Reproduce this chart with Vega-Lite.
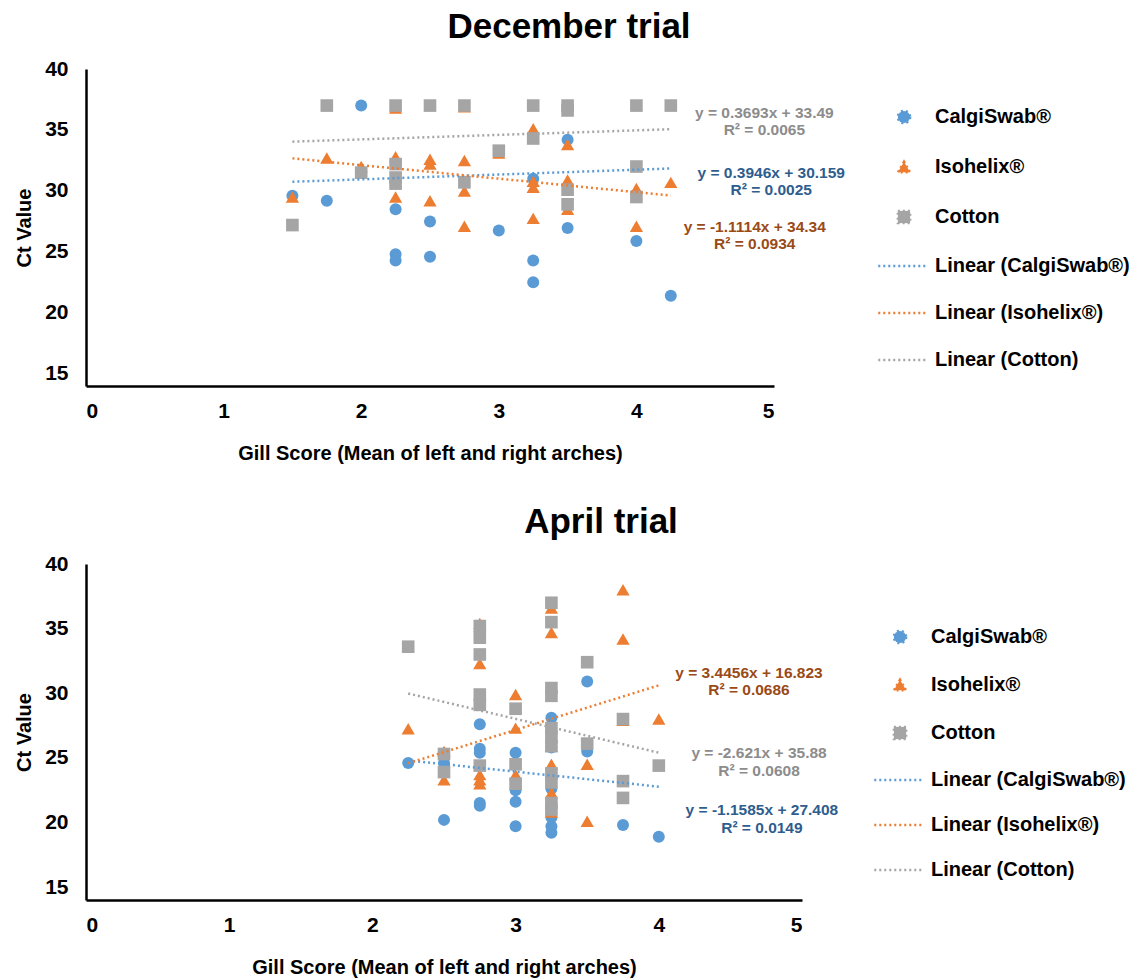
{
  "$schema": "https://vega.github.io/schema/vega-lite/v6.json",
  "padding": {"left": 14, "top": 10, "right": 5, "bottom": 5},
  "background": "white",
  "config": {
    "font": "Liberation Sans",
    "view": {"stroke": null},
    "axis": {"domainColor": "black", "domainWidth": 2.5, "ticks": false, "grid": false, "labelFont": "Liberation Sans", "labelFontSize": 21, "labelFontWeight": "bold", "labelColor": "black", "titleFont": "Liberation Sans", "titleFontSize": 20, "titleFontWeight": "bold", "titleColor": "black"},
    "axisX": {"labelPadding": 14, "titlePadding": 22, "format": "d"},
    "axisY": {"labelPadding": 18, "titlePadding": 10},
    "title": {"font": "Liberation Sans", "fontSize": 35, "fontWeight": "bold", "color": "black"},
    "legend": {
      "orient": "none", "title": null, "labelFont": "Liberation Sans", "labelFontSize": 20, "labelFontWeight": "bold", "labelColor": "black",
      "symbolSize": 150, "labelOffset": 21, "rowPadding": 27, "labelLimit": 0, "symbolDash": [2, 3], "symbolStrokeWidth": 2.5
    }
  },
  "datasets": {
    "decPts": [
      {"series": "CalgiSwab®", "x": 1.5, "y": 29.6}, {"series": "CalgiSwab®", "x": 1.75, "y": 29.2}, {"series": "CalgiSwab®", "x": 2.0, "y": 37.0}, {"series": "CalgiSwab®", "x": 2.25, "y": 28.5}, {"series": "CalgiSwab®", "x": 2.25, "y": 24.8}, {"series": "CalgiSwab®", "x": 2.25, "y": 24.3}, {"series": "CalgiSwab®", "x": 2.5, "y": 27.5}, {"series": "CalgiSwab®", "x": 2.5, "y": 24.6}, {"series": "CalgiSwab®", "x": 3.0, "y": 26.75}, {"series": "CalgiSwab®", "x": 3.25, "y": 31.0}, {"series": "CalgiSwab®", "x": 3.25, "y": 24.3}, {"series": "CalgiSwab®", "x": 3.25, "y": 22.5}, {"series": "CalgiSwab®", "x": 3.5, "y": 34.2}, {"series": "CalgiSwab®", "x": 3.5, "y": 26.95}, {"series": "CalgiSwab®", "x": 4.0, "y": 25.9}, {"series": "CalgiSwab®", "x": 4.25, "y": 21.4},
      {"series": "Isohelix®", "x": 1.5, "y": 29.5}, {"series": "Isohelix®", "x": 1.75, "y": 32.7}, {"series": "Isohelix®", "x": 2.0, "y": 32.0}, {"series": "Isohelix®", "x": 2.25, "y": 36.8}, {"series": "Isohelix®", "x": 2.25, "y": 32.8}, {"series": "Isohelix®", "x": 2.25, "y": 29.5}, {"series": "Isohelix®", "x": 2.5, "y": 32.6}, {"series": "Isohelix®", "x": 2.5, "y": 32.2}, {"series": "Isohelix®", "x": 2.5, "y": 29.2}, {"series": "Isohelix®", "x": 2.75, "y": 36.9}, {"series": "Isohelix®", "x": 2.75, "y": 32.5}, {"series": "Isohelix®", "x": 2.75, "y": 30.0}, {"series": "Isohelix®", "x": 2.75, "y": 27.1}, {"series": "Isohelix®", "x": 3.0, "y": 33.1}, {"series": "Isohelix®", "x": 3.25, "y": 35.1}, {"series": "Isohelix®", "x": 3.25, "y": 30.8}, {"series": "Isohelix®", "x": 3.25, "y": 30.3}, {"series": "Isohelix®", "x": 3.25, "y": 27.75}, {"series": "Isohelix®", "x": 3.5, "y": 33.8}, {"series": "Isohelix®", "x": 3.5, "y": 30.9}, {"series": "Isohelix®", "x": 3.5, "y": 28.5}, {"series": "Isohelix®", "x": 4.0, "y": 30.2}, {"series": "Isohelix®", "x": 4.0, "y": 27.1}, {"series": "Isohelix®", "x": 4.25, "y": 30.7},
      {"series": "Cotton", "x": 1.5, "y": 27.2}, {"series": "Cotton", "x": 1.75, "y": 37.0}, {"series": "Cotton", "x": 2.0, "y": 31.5}, {"series": "Cotton", "x": 2.25, "y": 37.0}, {"series": "Cotton", "x": 2.25, "y": 32.2}, {"series": "Cotton", "x": 2.25, "y": 31.1}, {"series": "Cotton", "x": 2.25, "y": 30.6}, {"series": "Cotton", "x": 2.5, "y": 37.0}, {"series": "Cotton", "x": 2.75, "y": 37.0}, {"series": "Cotton", "x": 2.75, "y": 30.7}, {"series": "Cotton", "x": 3.0, "y": 33.3}, {"series": "Cotton", "x": 3.25, "y": 37.0}, {"series": "Cotton", "x": 3.25, "y": 34.3}, {"series": "Cotton", "x": 3.5, "y": 37.0}, {"series": "Cotton", "x": 3.5, "y": 36.6}, {"series": "Cotton", "x": 3.5, "y": 30.1}, {"series": "Cotton", "x": 3.5, "y": 28.9}, {"series": "Cotton", "x": 4.0, "y": 37.0}, {"series": "Cotton", "x": 4.0, "y": 32.0}, {"series": "Cotton", "x": 4.0, "y": 29.5}, {"series": "Cotton", "x": 4.25, "y": 37.0}
    ],
    "decLines": [
      {"series": "Linear (CalgiSwab®)", "x": 1.5, "y": 30.75}, {"series": "Linear (CalgiSwab®)", "x": 4.25, "y": 31.84},
      {"series": "Linear (Isohelix®)", "x": 1.5, "y": 32.67}, {"series": "Linear (Isohelix®)", "x": 4.25, "y": 29.62},
      {"series": "Linear (Cotton)", "x": 1.5, "y": 34.04}, {"series": "Linear (Cotton)", "x": 4.25, "y": 35.06}
    ],
    "decEq": [
      {"series": "Cotton", "x": 4.93, "y": 36.4, "label": "y = 0.3693x + 33.49\nR² = 0.0065"},
      {"series": "CalgiSwab®", "x": 4.98, "y": 31.5, "label": "y = 0.3946x + 30.159\nR² = 0.0025"},
      {"series": "Isohelix®", "x": 4.86, "y": 27.07, "label": "y = -1.1114x + 34.34\nR² = 0.0934"}
    ],
    "aprPts": [
      {"series": "CalgiSwab®", "x": 2.25, "y": 24.6}, {"series": "CalgiSwab®", "x": 2.5, "y": 24.6}, {"series": "CalgiSwab®", "x": 2.5, "y": 20.2}, {"series": "CalgiSwab®", "x": 2.75, "y": 27.6}, {"series": "CalgiSwab®", "x": 2.75, "y": 25.7}, {"series": "CalgiSwab®", "x": 2.75, "y": 25.4}, {"series": "CalgiSwab®", "x": 2.75, "y": 21.5}, {"series": "CalgiSwab®", "x": 2.75, "y": 21.3}, {"series": "CalgiSwab®", "x": 3.0, "y": 25.4}, {"series": "CalgiSwab®", "x": 3.0, "y": 22.5}, {"series": "CalgiSwab®", "x": 3.0, "y": 21.6}, {"series": "CalgiSwab®", "x": 3.0, "y": 19.7}, {"series": "CalgiSwab®", "x": 3.25, "y": 28.1}, {"series": "CalgiSwab®", "x": 3.25, "y": 25.8}, {"series": "CalgiSwab®", "x": 3.25, "y": 22.6}, {"series": "CalgiSwab®", "x": 3.25, "y": 20.4}, {"series": "CalgiSwab®", "x": 3.25, "y": 19.7}, {"series": "CalgiSwab®", "x": 3.25, "y": 19.2}, {"series": "CalgiSwab®", "x": 3.5, "y": 30.9}, {"series": "CalgiSwab®", "x": 3.5, "y": 25.5}, {"series": "CalgiSwab®", "x": 3.75, "y": 19.8}, {"series": "CalgiSwab®", "x": 4.0, "y": 18.9},
      {"series": "Isohelix®", "x": 2.25, "y": 27.25}, {"series": "Isohelix®", "x": 2.5, "y": 25.5}, {"series": "Isohelix®", "x": 2.5, "y": 23.3}, {"series": "Isohelix®", "x": 2.75, "y": 35.4}, {"series": "Isohelix®", "x": 2.75, "y": 32.3}, {"series": "Isohelix®", "x": 2.75, "y": 23.7}, {"series": "Isohelix®", "x": 2.75, "y": 23.3}, {"series": "Isohelix®", "x": 2.75, "y": 23.0}, {"series": "Isohelix®", "x": 3.0, "y": 29.9}, {"series": "Isohelix®", "x": 3.0, "y": 27.3}, {"series": "Isohelix®", "x": 3.0, "y": 23.7}, {"series": "Isohelix®", "x": 3.25, "y": 36.6}, {"series": "Isohelix®", "x": 3.25, "y": 34.7}, {"series": "Isohelix®", "x": 3.25, "y": 25.9}, {"series": "Isohelix®", "x": 3.25, "y": 24.5}, {"series": "Isohelix®", "x": 3.25, "y": 22.3}, {"series": "Isohelix®", "x": 3.25, "y": 20.8}, {"series": "Isohelix®", "x": 3.5, "y": 24.5}, {"series": "Isohelix®", "x": 3.5, "y": 20.1}, {"series": "Isohelix®", "x": 3.75, "y": 38.0}, {"series": "Isohelix®", "x": 3.75, "y": 34.2}, {"series": "Isohelix®", "x": 3.75, "y": 27.9}, {"series": "Isohelix®", "x": 4.0, "y": 28.0},
      {"series": "Cotton", "x": 2.25, "y": 33.6}, {"series": "Cotton", "x": 2.5, "y": 25.3}, {"series": "Cotton", "x": 2.5, "y": 23.9}, {"series": "Cotton", "x": 2.75, "y": 35.2}, {"series": "Cotton", "x": 2.75, "y": 34.3}, {"series": "Cotton", "x": 2.75, "y": 33.0}, {"series": "Cotton", "x": 2.75, "y": 29.9}, {"series": "Cotton", "x": 2.75, "y": 29.1}, {"series": "Cotton", "x": 2.75, "y": 24.4}, {"series": "Cotton", "x": 3.0, "y": 28.8}, {"series": "Cotton", "x": 3.0, "y": 24.5}, {"series": "Cotton", "x": 3.0, "y": 23.0}, {"series": "Cotton", "x": 3.25, "y": 37.0}, {"series": "Cotton", "x": 3.25, "y": 35.5}, {"series": "Cotton", "x": 3.25, "y": 30.4}, {"series": "Cotton", "x": 3.25, "y": 29.8}, {"series": "Cotton", "x": 3.25, "y": 27.3}, {"series": "Cotton", "x": 3.25, "y": 26.6}, {"series": "Cotton", "x": 3.25, "y": 25.9}, {"series": "Cotton", "x": 3.25, "y": 23.8}, {"series": "Cotton", "x": 3.25, "y": 23.1}, {"series": "Cotton", "x": 3.25, "y": 21.5}, {"series": "Cotton", "x": 3.25, "y": 21.0}, {"series": "Cotton", "x": 3.5, "y": 32.4}, {"series": "Cotton", "x": 3.5, "y": 26.1}, {"series": "Cotton", "x": 3.75, "y": 28.0}, {"series": "Cotton", "x": 3.75, "y": 23.2}, {"series": "Cotton", "x": 3.75, "y": 21.9}, {"series": "Cotton", "x": 4.0, "y": 24.4}
    ],
    "aprLines": [
      {"series": "Linear (CalgiSwab®)", "x": 2.25, "y": 24.80}, {"series": "Linear (CalgiSwab®)", "x": 4.0, "y": 22.77},
      {"series": "Linear (Isohelix®)", "x": 2.25, "y": 24.58}, {"series": "Linear (Isohelix®)", "x": 4.0, "y": 30.61},
      {"series": "Linear (Cotton)", "x": 2.25, "y": 29.98}, {"series": "Linear (Cotton)", "x": 4.0, "y": 25.40}
    ],
    "aprEq": [
      {"series": "Isohelix®", "x": 4.63, "y": 31.6, "label": "y = 3.4456x + 16.823\nR² = 0.0686"},
      {"series": "Cotton", "x": 4.70, "y": 25.34, "label": "y = -2.621x + 35.88\nR² = 0.0608"},
      {"series": "CalgiSwab®", "x": 4.72, "y": 20.95, "label": "y = -1.1585x + 27.408\nR² = 0.0149"}
    ]
  },
  "resolve": {"scale": {"color": "independent", "shape": "independent", "size": "independent", "fill": "independent", "x": "independent", "y": "independent"}},
  "spacing": 42,
  "vconcat": [
    {
      "title": {"text": "December trial", "anchor": "middle", "dx": 139, "offset": 13},
      "width": 688,
      "height": 317,
      "layer": [
        {
          "data": {"name": "decPts"},
          "mark": {"type": "point", "filled": true, "opacity": 1},
          "encoding": {
            "x": {"field": "x", "type": "quantitative", "scale": {"domain": [0, 5]}, "axis": {"title": "Gill Score (Mean of left and right arches)", "values": [0, 1, 2, 3, 4, 5]}},
            "y": {"field": "y", "type": "quantitative", "scale": {"domain": [15, 40]}, "axis": {"title": "Ct Value", "values": [15, 20, 25, 30, 35, 40]}},
            "color": {"field": "series", "type": "nominal", "scale": {"domain": ["CalgiSwab®", "Isohelix®", "Cotton", "Linear (CalgiSwab®)", "Linear (Isohelix®)", "Linear (Cotton)"], "range": ["#5B9BD5", "#ED7D31", "#A5A5A5", "#5B9BD5", "#ED7D31", "#A5A5A5"]},
              "legend": {"legendX": 808, "legendY": 38, "symbolDash": [2, 3], "symbolStrokeWidth": 2.5}},
            "shape": {"field": "series", "type": "nominal", "scale": {"domain": ["CalgiSwab®", "Isohelix®", "Cotton", "Linear (CalgiSwab®)", "Linear (Isohelix®)", "Linear (Cotton)"], "range": ["circle", "triangle-up", "square", "M-4.2,0L3.9,0", "M-4.2,0L3.9,0", "M-4.2,0L3.9,0"]},
              "legend": {"legendX": 808, "legendY": 38, "symbolDash": [2, 3], "symbolStrokeWidth": 2.5}},
            "size": {"field": "series", "type": "nominal", "scale": {"domain": ["CalgiSwab®", "Cotton", "Isohelix®"], "range": [144, 175, 330]}, "legend": null}
          }
        },
        {
          "data": {"name": "decLines"},
          "mark": {"type": "line", "strokeDash": [2, 3], "strokeWidth": 2.5},
          "encoding": {
            "x": {"field": "x", "type": "quantitative"},
            "y": {"field": "y", "type": "quantitative"},
            "color": {"field": "series", "type": "nominal"}
          }
        },
        {
          "data": {"name": "decEq"},
          "mark": {"type": "text", "lineBreak": "\n", "fontSize": 15.5, "fontWeight": "bold", "align": "center", "baseline": "middle"},
          "encoding": {
            "x": {"field": "x", "type": "quantitative"},
            "y": {"field": "y", "type": "quantitative"},
            "text": {"field": "label"},
            "fill": {"field": "series", "type": "nominal", "scale": {"domain": ["CalgiSwab®", "Isohelix®", "Cotton"], "range": ["#2E5D8E", "#9A4A16", "#8C8C8C"]}, "legend": null}
          }
        }
      ]
    },
    {
      "title": {"text": "April trial", "anchor": "middle", "dx": 157, "offset": 13},
      "width": 716,
      "height": 336,
      "layer": [
        {
          "data": {"name": "aprPts"},
          "mark": {"type": "point", "filled": true, "opacity": 1},
          "encoding": {
            "x": {"field": "x", "type": "quantitative", "scale": {"domain": [0, 5]}, "axis": {"title": "Gill Score (Mean of left and right arches)", "values": [0, 1, 2, 3, 4, 5]}},
            "y": {"field": "y", "type": "quantitative", "scale": {"domain": [15, 40]}, "axis": {"title": "Ct Value", "values": [15, 20, 25, 30, 35, 40]}},
            "color": {"field": "series", "type": "nominal", "scale": {"domain": ["CalgiSwab®", "Isohelix®", "Cotton", "Linear (CalgiSwab®)", "Linear (Isohelix®)", "Linear (Cotton)"], "range": ["#5B9BD5", "#ED7D31", "#A5A5A5", "#5B9BD5", "#ED7D31", "#A5A5A5"]},
              "legend": {"legendX": 804, "legendY": 63, "rowPadding": 25, "symbolDash": [2, 3], "symbolStrokeWidth": 2.5}},
            "shape": {"field": "series", "type": "nominal", "scale": {"domain": ["CalgiSwab®", "Isohelix®", "Cotton", "Linear (CalgiSwab®)", "Linear (Isohelix®)", "Linear (Cotton)"], "range": ["circle", "triangle-up", "square", "M-4.2,0L3.9,0", "M-4.2,0L3.9,0", "M-4.2,0L3.9,0"]},
              "legend": {"legendX": 804, "legendY": 63, "rowPadding": 25, "symbolDash": [2, 3], "symbolStrokeWidth": 2.5}},
            "size": {"field": "series", "type": "nominal", "scale": {"domain": ["CalgiSwab®", "Cotton", "Isohelix®"], "range": [144, 175, 330]}, "legend": null}
          }
        },
        {
          "data": {"name": "aprLines"},
          "mark": {"type": "line", "strokeDash": [2, 3], "strokeWidth": 2.5},
          "encoding": {
            "x": {"field": "x", "type": "quantitative"},
            "y": {"field": "y", "type": "quantitative"},
            "color": {"field": "series", "type": "nominal"}
          }
        },
        {
          "data": {"name": "aprEq"},
          "mark": {"type": "text", "lineBreak": "\n", "fontSize": 15.5, "fontWeight": "bold", "align": "center", "baseline": "middle"},
          "encoding": {
            "x": {"field": "x", "type": "quantitative"},
            "y": {"field": "y", "type": "quantitative"},
            "text": {"field": "label"},
            "fill": {"field": "series", "type": "nominal", "scale": {"domain": ["CalgiSwab®", "Isohelix®", "Cotton"], "range": ["#2E5D8E", "#9A4A16", "#8C8C8C"]}, "legend": null}
          }
        }
      ]
    }
  ]
}
